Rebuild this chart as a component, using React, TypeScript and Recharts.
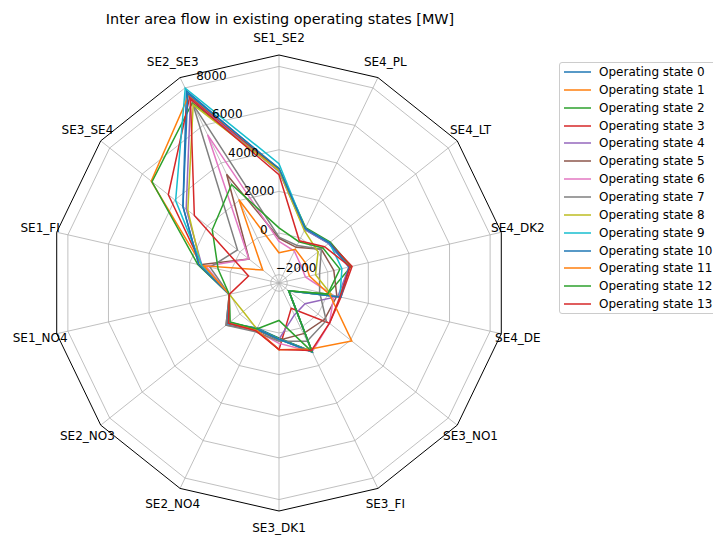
import React from "react"
import {
  RadarChart,
  Radar,
  PolarGrid,
  PolarAngleAxis,
  PolarRadiusAxis,
  Legend,
} from "recharts"

const AXES = [
  "SE1_SE2", "SE4_PL", "SE4_LT", "SE4_DK2", "SE4_DE", "SE3_NO1", "SE3_FI",
  "SE3_DK1", "SE2_NO4", "SE2_NO3", "SE1_NO4", "SE1_FI", "SE3_SE4", "SE2_SE3",
]

// MW per axis, same order as AXES
const STATE_0 = [3050, 450, 650, 1050, 600, -1800, 1250, 250, 0, 700, 50, 1550, 3500, 7850]
const STATE_1 = [3000, 500, 700, 1100, 600, -1800, 1250, 300, 50, 700, 50, 1400, 5450, 7600]
const STATE_2 = [3100, 550, 750, 1150, 0, -1800, 1270, 250, 50, 650, 50, 1600, 5400, 7200]
const STATE_3 = [3000, 500, 700, 1200, 650, 700, -1050, 800, 100, 650, 50, 1400, 4400, 7500]
const STATE_4 = [2950, 450, 650, 1050, 500, -800, -700, 300, 50, 650, 50, 1400, 3300, 7400]
const STATE_5 = [-250, -500, 200, 300, 450, 400, 300, 350, 100, 850, 50, 1530, -560, 3400]
const STATE_6 = [-400, -700, -1050, -1100, 300, 700, 1270, 500, 150, 700, 50, 1200, -550, 5500]
const STATE_7 = [-200, -400, 200, -400, -400, 500, 700, 400, 200, 850, 50, 1000, 150, 7150]
const STATE_8 = [3000, 400, 0, -600, 200, -1800, 1270, 300, 50, -200, 50, 1450, 3200, 7100]
const STATE_9 = [3330, 500, 700, 700, 600, -1800, 1270, 300, 50, 650, 50, 1400, 3950, 7980]
const STATE_10 = [3100, 500, 700, 1050, 650, -1800, 1270, 300, 50, 750, 50, 1550, 3500, 7700]
const STATE_11 = [-950, -600, -800, -900, 100, 2070, 1120, 800, 100, 700, 50, 1300, -1400, 2050]
const STATE_12 = [250, -200, 300, 600, 0, -1800, 1270, -600, 50, 600, 50, 600, 1700, 2850]
const STATE_13 = [2800, -150, 400, 1100, 600, 700, 1200, 800, 150, 700, 50, -900, 2800, 7400]

const STATES = [
  STATE_0, STATE_1, STATE_2, STATE_3, STATE_4, STATE_5, STATE_6,
  STATE_7, STATE_8, STATE_9, STATE_10, STATE_11, STATE_12, STATE_13,
]

const COLORS = [
  "#1f77b4", "#ff7f0e", "#2ca02c", "#d62728", "#9467bd", "#8c564b", "#e377c2",
  "#7f7f7f", "#bcbd22", "#17becf", "#1f77b4", "#ff7f0e", "#2ca02c", "#d62728",
]

const R_TICKS = [-2000, 0, 2000, 4000, 6000, 8000]

const rows = AXES.map((axis, i) => {
  const row: Record<string, string | number> = { axis }
  STATES.forEach((s, k) => { row[`s${k}`] = s[i] })
  return row
})

const CX = 279
const CY = 283
const OUTER = 228

function AngleTick(props: any) {
  const { x, y, payload } = props
  return (
    <text x={x} y={y} textAnchor="middle" dominantBaseline="central" fontSize={12} fill="#000">
      {payload.value}
    </text>
  )
}

// matplotlib style: label starts at the tick point, sits just above it
function RadiusTick(props: any) {
  const { x, y, payload } = props
  const v = Number(payload.value)
  const label = v < 0 ? `\u2212${Math.abs(v)}` : `${v}`
  return (
    <text x={x} y={y - 3} textAnchor="start" fontSize={12} fill="#000">
      {label}
    </text>
  )
}

function LegendBox(props: any) {
  const items = [...(props.payload || [])].sort(
    (a: any, b: any) => Number(String(a.dataKey).slice(1)) - Number(String(b.dataKey).slice(1))
  )
  return (
    <div style={{ border: "1px solid #cccccc", borderRadius: 3, background: "#fff", padding: "0 0 0 4px", width: 160, boxSizing: "border-box" }}>
      {items.map((it: any) => (
        <div key={it.value} style={{ display: "flex", alignItems: "center", height: 17.87, fontSize: 12, whiteSpace: "nowrap" }}>
          <svg width={27} height={4} style={{ marginRight: 8 }}>
            <line x1={0} y1={2} x2={27} y2={2} stroke={it.color} strokeWidth={1.5} />
          </svg>
          <span>{it.value}</span>
        </div>
      ))}
    </div>
  )
}

export default function App() {
  return (
    <div style={{ position: "absolute", left: 0, top: 0, width: 713, height: 536, fontFamily: "'DejaVu Sans', sans-serif", overflow: "hidden", background: "#fff" }}>
      <div style={{ position: "absolute", left: 0, width: 560, top: 11, textAlign: "center", fontSize: 14.4 }}>
        Inter area flow in existing operating states [MW]
      </div>
      <RadarChart
        width={713}
        height={536}
        data={rows}
        cx={CX}
        cy={CY}
        outerRadius={OUTER}
        startAngle={90}
        endAngle={-270}
        margin={{ top: 0, right: 0, bottom: 0, left: 0 }}
      >
        <PolarGrid gridType="polygon" stroke="#b0b0b0" strokeWidth={0.8} />
        <PolarAngleAxis
          dataKey="axis"
          tick={<AngleTick />}
          tickSize={17}
          tickLine={false}
          axisLineType="polygon"
          axisLine={{ stroke: "#000", strokeWidth: 1 }}
        />
        <PolarRadiusAxis
          type="number"
          domain={[-2400, 8550]}
          ticks={R_TICKS}
          angle={112.5}
          axisLine={false}
          tickLine={false}
          tick={<RadiusTick />}
          allowDataOverflow
        />
        {STATES.map((_, k) => (
          <Radar
            key={k}
            name={`Operating state ${k}`}
            dataKey={`s${k}`}
            stroke={COLORS[k]}
            strokeWidth={1.5}
            fill="none"
            fillOpacity={0}
            dot={false}
            isAnimationActive={false}
          />
        ))}
        <Legend
          layout="vertical"
          align="right"
          verticalAlign="top"
          content={<LegendBox />}
          wrapperStyle={{ position: "absolute", left: 559, top: 62, width: 160 }}
        />
      </RadarChart>
    </div>
  )
}
